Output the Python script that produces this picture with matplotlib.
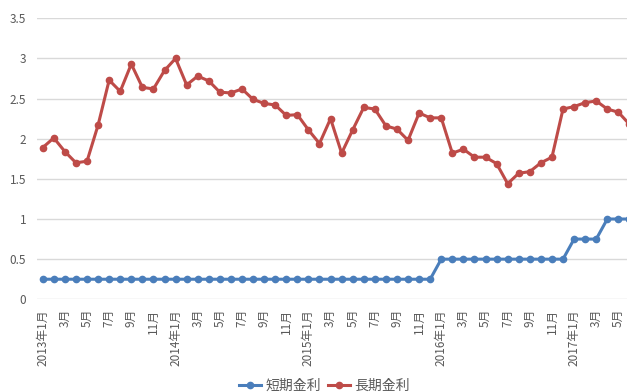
import numpy as np
import matplotlib
matplotlib.use('Agg')
import matplotlib.pyplot as plt

plt.rcParams['font.family'] = ['Noto Sans CJK JP', 'DejaVu Sans']

# monthly rates, 2013-01 .. 2017-06
short_rate = [0.25] * 36 + [0.5] * 12 + [0.75, 0.75, 0.75, 1.0, 1.0, 1.0]
long_rate = [
    1.89, 2.01, 1.84, 1.70, 1.72, 2.17, 2.73, 2.59, 2.93, 2.64, 2.62, 2.85,
    3.00, 2.67, 2.78, 2.72, 2.58, 2.57, 2.62, 2.49, 2.44, 2.42, 2.29, 2.30,
    2.11, 1.94, 2.25, 1.82, 2.11, 2.39, 2.37, 2.16, 2.12, 1.98, 2.32, 2.26,
    2.26, 1.82, 1.87, 1.77, 1.77, 1.69, 1.44, 1.57, 1.59, 1.70, 1.77, 2.37,
    2.40, 2.45, 2.47, 2.37, 2.33, 2.18,
]

months = []
for y in range(2013, 2018):
    for m in range(1, 13):
        months.append(f'{y}年{m}月' if m == 1 else f'{m}月')
months = months[:len(long_rate)]

blue = '#4a7ebb'
red = '#be4b48'

fig = plt.figure(figsize=(6.27, 3.92), dpi=100)
ax = fig.add_axes([37.2 / 627, 92.7 / 392, 1 - 37.2 / 627, (299.3 - 18.3) / 392])

x = np.arange(len(long_rate))
ax.plot(x, short_rate, color=blue, lw=2.2, marker='o', ms=4.5, label='短期金利')
ax.plot(x, long_rate, color=red, lw=2.2, marker='o', ms=4.5, label='長期金利')

ax.set_xlim(-0.5, 52.78)
ax.set_ylim(0, 3.5)
ax.set_yticks(np.arange(0, 3.6, 0.5))
ax.set_yticklabels(['0', '0.5', '1', '1.5', '2', '2.5', '3', '3.5'])
ax.set_xticks(x[::2])
ax.set_xticklabels(months[::2], rotation=90, va='top', ha='center')

ax.grid(axis='y', color='#d9d9d9', lw=1)
ax.set_axisbelow(True)
for s in ax.spines.values():
    s.set_visible(False)
ax.tick_params(length=0, labelsize=8.5, colors='#595959', pad=7)
ax.tick_params(axis='y', pad=8)

fig.legend(loc='center', bbox_to_anchor=(0.517, 1 - 385.5 / 392), ncol=2,
           frameon=False, fontsize=10, handlelength=1.6, columnspacing=0.5,
           handletextpad=0.3, labelcolor='#595959')

fig.savefig('out.png', dpi=100)
